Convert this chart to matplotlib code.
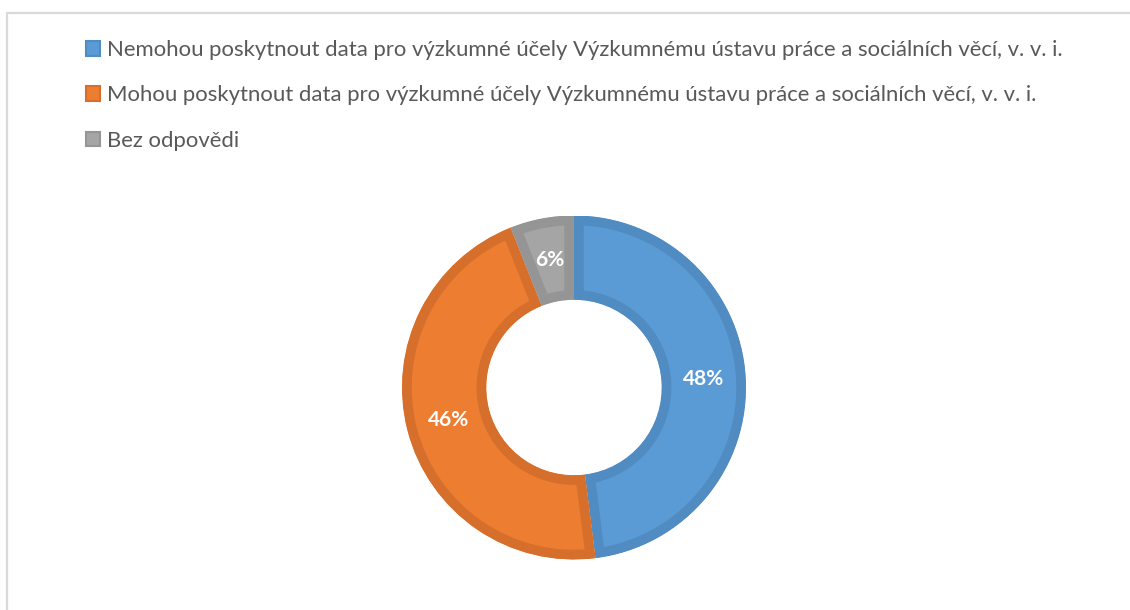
import matplotlib.pyplot as plt
from matplotlib.patches import Patch, Rectangle
import numpy as np

plt.rcParams['font.family'] = ['Lato', 'DejaVu Sans']

labels = [
    'Nemohou poskytnout data pro výzkumné účely Výzkumnému ústavu práce a sociálních věcí, v. v. i.',
    'Mohou poskytnout data pro výzkumné účely Výzkumnému ústavu práce a sociálních věcí, v. v. i.',
    'Bez odpovědi',
]
shares = [48, 46, 6]
fills = ['#5B9BD5', '#ED7D31', '#A5A5A5']
edges = ['#508BC1', '#D56F2B', '#959595']

fig = plt.figure(figsize=(11.3, 6.1), dpi=100)

# light frame like the chart area border
frame = Rectangle((7 / 1130, -0.1), 1.2, (610 - 13) / 610 + 0.1,
                  transform=fig.transFigure, fill=False,
                  edgecolor='#D9D9D9', linewidth=1.6)
fig.patches.append(frame)

cx, cy, r = 574, 387.5, 172
ax = fig.add_axes([(cx - r) / 1130, (610 - cy - r) / 610, 2 * r / 1130, 2 * r / 610])

ring = 0.49
wedges, texts = ax.pie(shares, colors=fills, startangle=90, counterclock=False,
                       radius=1.0, wedgeprops=dict(width=ring, linewidth=0))
# darker inner border, kept inside each slice
for w, ec in zip(wedges, edges):
    w.set_edgecolor(ec)
    w.set_linewidth(14)
    w.set_clip_on(True)
    w.set_clip_path(w)

# labels at ring middle
for w, v in zip(wedges, shares):
    ang = np.deg2rad((w.theta1 + w.theta2) / 2)
    rr = 1 - ring / 2
    ax.text(rr * np.cos(ang), rr * np.sin(ang), f'{v}%', ha='center', va='center',
            color='white', fontsize=15, fontweight='bold')

ax.set_xlim(-1, 1)
ax.set_ylim(-1, 1)
ax.set_aspect('equal')
ax.axis('off')

handles = [Patch(facecolor=f, edgecolor=e, linewidth=1.5) for f, e in zip(fills, edges)]
fig.legend(handles, labels, loc='upper left', bbox_to_anchor=(86 / 1130, 1 - 40 / 610),
           frameon=False, fontsize=15.9, labelcolor='#595959',
           handlelength=0.65, handleheight=0.65, handletextpad=0.3,
           labelspacing=1.15, borderpad=0, borderaxespad=0)

fig.savefig('out.png', dpi=100, facecolor='white')
